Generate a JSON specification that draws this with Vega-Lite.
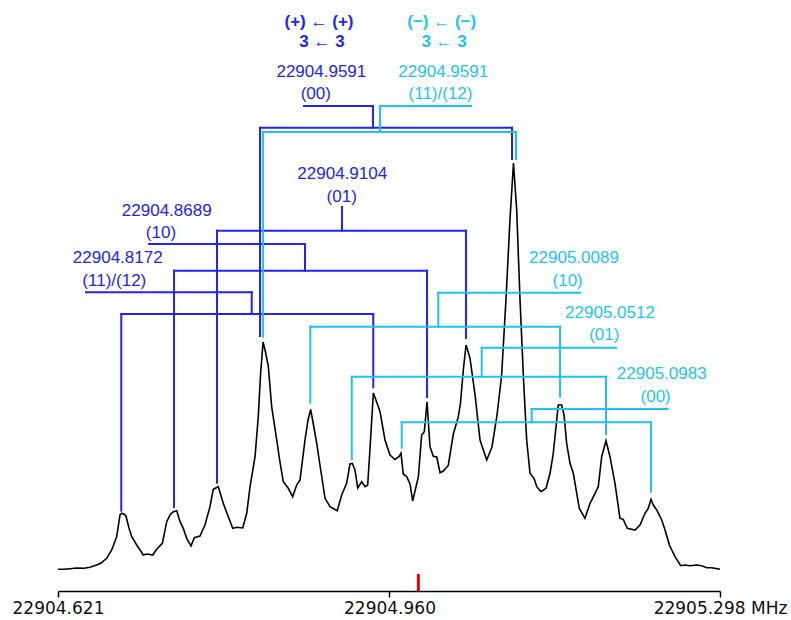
{
  "$schema": "https://vega.github.io/schema/vega-lite/v6.json",
  "width": 662,
  "height": 591,
  "autosize": "none",
  "padding": {"left": 58, "top": 0, "right": 71, "bottom": 29},
  "background": "white",
  "config": {
    "view": {"stroke": null}
  },
  "datasets": {
    "spectrum": [
      {"f": 22904.6210, "v": 21.7}, {"f": 22904.6264, "v": 21.7}, {"f": 22904.6333, "v": 22.3}, {"f": 22904.6401, "v": 23},
      {"f": 22904.6476, "v": 22.7}, {"f": 22904.6537, "v": 23.7}, {"f": 22904.6606, "v": 26}, {"f": 22904.6650, "v": 28},
      {"f": 22904.6708, "v": 32.7}, {"f": 22904.6759, "v": 41}, {"f": 22904.6810, "v": 54.3}, {"f": 22904.6844, "v": 76},
      {"f": 22904.6861, "v": 77.7}, {"f": 22904.6890, "v": 76.5}, {"f": 22904.6905, "v": 75}, {"f": 22904.6936, "v": 63},
      {"f": 22904.6964, "v": 54.3}, {"f": 22904.7015, "v": 46}, {"f": 22904.7049, "v": 41}, {"f": 22904.7082, "v": 36},
      {"f": 22904.7117, "v": 37}, {"f": 22904.7151, "v": 36.5}, {"f": 22904.7179, "v": 36}, {"f": 22904.7219, "v": 41.7},
      {"f": 22904.7277, "v": 47.7}, {"f": 22904.7322, "v": 69.3}, {"f": 22904.7355, "v": 76}, {"f": 22904.7386, "v": 79},
      {"f": 22904.7424, "v": 80.3}, {"f": 22904.7458, "v": 69.3}, {"f": 22904.7491, "v": 62.7}, {"f": 22904.7526, "v": 52.7},
      {"f": 22904.7570, "v": 45}, {"f": 22904.7604, "v": 53.3}, {"f": 22904.7662, "v": 55}, {"f": 22904.7713, "v": 66},
      {"f": 22904.7764, "v": 84.3}, {"f": 22904.7798, "v": 101.7}, {"f": 22904.7849, "v": 104.3}, {"f": 22904.7900, "v": 87.7},
      {"f": 22904.7949, "v": 75}, {"f": 22904.7997, "v": 62.7}, {"f": 22904.8038, "v": 63.7}, {"f": 22904.8099, "v": 63},
      {"f": 22904.8140, "v": 77.7}, {"f": 22904.8174, "v": 104.3}, {"f": 22904.8225, "v": 134.3}, {"f": 22904.8258, "v": 174.3},
      {"f": 22904.8281, "v": 216}, {"f": 22904.8307, "v": 249}, {"f": 22904.8332, "v": 239}, {"f": 22904.8361, "v": 224.3},
      {"f": 22904.8395, "v": 184.3}, {"f": 22904.8447, "v": 151}, {"f": 22904.8480, "v": 129}, {"f": 22904.8514, "v": 109.3},
      {"f": 22904.8565, "v": 102.7}, {"f": 22904.8610, "v": 94.3}, {"f": 22904.8651, "v": 106}, {"f": 22904.8685, "v": 111},
      {"f": 22904.8736, "v": 151}, {"f": 22904.8767, "v": 171}, {"f": 22904.8794, "v": 181.5}, {"f": 22904.8823, "v": 166},
      {"f": 22904.8856, "v": 147.7}, {"f": 22904.8889, "v": 126}, {"f": 22904.8941, "v": 92.7}, {"f": 22904.8992, "v": 84.3},
      {"f": 22904.9066, "v": 80.3}, {"f": 22904.9111, "v": 96}, {"f": 22904.9162, "v": 107.7}, {"f": 22904.9196, "v": 127},
      {"f": 22904.9220, "v": 127.5}, {"f": 22904.9247, "v": 121}, {"f": 22904.9275, "v": 103}, {"f": 22904.9316, "v": 109.3},
      {"f": 22904.9350, "v": 104.3}, {"f": 22904.9377, "v": 106}, {"f": 22904.9401, "v": 143}, {"f": 22904.9435, "v": 198},
      {"f": 22904.9486, "v": 184.3}, {"f": 22904.9503, "v": 179.3}, {"f": 22904.9554, "v": 151}, {"f": 22904.9605, "v": 136},
      {"f": 22904.9656, "v": 131.5}, {"f": 22904.9697, "v": 134.3}, {"f": 22904.9718, "v": 137.7}, {"f": 22904.9741, "v": 117},
      {"f": 22904.9776, "v": 114.3}, {"f": 22904.9810, "v": 107}, {"f": 22904.9837, "v": 90}, {"f": 22904.9895, "v": 114},
      {"f": 22904.9929, "v": 156}, {"f": 22904.9956, "v": 159.3}, {"f": 22904.9984, "v": 189.3}, {"f": 22905.0014, "v": 144.3},
      {"f": 22905.0048, "v": 134.7}, {"f": 22905.0083, "v": 134}, {"f": 22905.0117, "v": 118.3}, {"f": 22905.0150, "v": 120},
      {"f": 22905.0201, "v": 125.5}, {"f": 22905.0253, "v": 157}, {"f": 22905.0304, "v": 174.3}, {"f": 22905.0326, "v": 188},
      {"f": 22905.0355, "v": 221}, {"f": 22905.0383, "v": 246}, {"f": 22905.0423, "v": 233}, {"f": 22905.0475, "v": 196},
      {"f": 22905.0526, "v": 151}, {"f": 22905.0594, "v": 131}, {"f": 22905.0648, "v": 144}, {"f": 22905.0700, "v": 176},
      {"f": 22905.0747, "v": 216}, {"f": 22905.0791, "v": 291}, {"f": 22905.0832, "v": 371}, {"f": 22905.0868, "v": 428},
      {"f": 22905.0901, "v": 381}, {"f": 22905.0935, "v": 291}, {"f": 22905.0971, "v": 211}, {"f": 22905.1003, "v": 151},
      {"f": 22905.1037, "v": 117.7}, {"f": 22905.1078, "v": 112.7}, {"f": 22905.1106, "v": 104.3}, {"f": 22905.1150, "v": 99.3},
      {"f": 22905.1201, "v": 102.7}, {"f": 22905.1242, "v": 117.7}, {"f": 22905.1275, "v": 137.7}, {"f": 22905.1303, "v": 164.3},
      {"f": 22905.1326, "v": 186}, {"f": 22905.1361, "v": 186}, {"f": 22905.1385, "v": 176}, {"f": 22905.1412, "v": 147.7},
      {"f": 22905.1446, "v": 127.7}, {"f": 22905.1480, "v": 117.7}, {"f": 22905.1541, "v": 82.7}, {"f": 22905.1599, "v": 72.7},
      {"f": 22905.1651, "v": 87.7}, {"f": 22905.1702, "v": 97.7}, {"f": 22905.1735, "v": 104.3}, {"f": 22905.1770, "v": 134.3},
      {"f": 22905.1814, "v": 150.3}, {"f": 22905.1855, "v": 134.3}, {"f": 22905.1906, "v": 107.7}, {"f": 22905.1957, "v": 72.7},
      {"f": 22905.1991, "v": 71.7}, {"f": 22905.2032, "v": 62.7}, {"f": 22905.2111, "v": 61}, {"f": 22905.2162, "v": 66},
      {"f": 22905.2213, "v": 77.7}, {"f": 22905.2247, "v": 82.7}, {"f": 22905.2274, "v": 91.7}, {"f": 22905.2298, "v": 86},
      {"f": 22905.2333, "v": 81}, {"f": 22905.2384, "v": 71}, {"f": 22905.2418, "v": 61}, {"f": 22905.2462, "v": 46},
      {"f": 22905.2520, "v": 34.3}, {"f": 22905.2578, "v": 25.3}, {"f": 22905.2622, "v": 26}, {"f": 22905.2673, "v": 25.3},
      {"f": 22905.2742, "v": 26}, {"f": 22905.2793, "v": 25.3}, {"f": 22905.2844, "v": 23.3}, {"f": 22905.2895, "v": 23.3},
      {"f": 22905.2980, "v": 21.7}
    ],
    "tree": [
      {"tree": "plus", "f": 22904.8726, "f2": 22904.9431, "v": 485, "v2": 485},
      {"tree": "plus", "f": 22904.9431, "f2": 22904.9431, "v": 485, "v2": 463.3},
      {"tree": "plus", "f": 22904.8276, "f2": 22905.0853, "v": 463.3, "v2": 463.3},
      {"tree": "plus", "f": 22904.8276, "f2": 22904.8276, "v": 463.3, "v2": 255},
      {"tree": "plus", "f": 22905.0853, "f2": 22905.0853, "v": 463.3, "v2": 432},
      {"tree": "plus", "f": 22904.9114, "f2": 22904.9114, "v": 384, "v2": 360.3},
      {"tree": "plus", "f": 22904.7836, "f2": 22905.0382, "v": 360.3, "v2": 360.3},
      {"tree": "plus", "f": 22904.7836, "f2": 22904.7836, "v": 360.3, "v2": 108.3},
      {"tree": "plus", "f": 22905.0382, "f2": 22905.0382, "v": 360.3, "v2": 253},
      {"tree": "plus", "f": 22904.7141, "f2": 22904.8736, "v": 347, "v2": 347},
      {"tree": "plus", "f": 22904.8736, "f2": 22904.8736, "v": 347, "v2": 320.3},
      {"tree": "plus", "f": 22904.7396, "f2": 22904.9984, "v": 320.3, "v2": 320.3},
      {"tree": "plus", "f": 22904.7396, "f2": 22904.7396, "v": 320.3, "v2": 84},
      {"tree": "plus", "f": 22904.9984, "f2": 22904.9984, "v": 320.3, "v2": 194},
      {"tree": "plus", "f": 22904.6496, "f2": 22904.8191, "v": 298.7, "v2": 298.7},
      {"tree": "plus", "f": 22904.8191, "f2": 22904.8191, "v": 298.7, "v2": 277},
      {"tree": "plus", "f": 22904.6857, "f2": 22904.9434, "v": 277, "v2": 277},
      {"tree": "plus", "f": 22904.6857, "f2": 22904.6857, "v": 277, "v2": 80.3},
      {"tree": "plus", "f": 22904.9434, "f2": 22904.9434, "v": 277, "v2": 203.7},
      {"tree": "minus", "f": 22904.9503, "f2": 22905.0434, "v": 485, "v2": 485},
      {"tree": "minus", "f": 22904.9503, "f2": 22904.9503, "v": 485, "v2": 459},
      {"tree": "minus", "f": 22904.8306, "f2": 22905.0894, "v": 459, "v2": 459},
      {"tree": "minus", "f": 22904.8306, "f2": 22904.8306, "v": 459, "v2": 254.3},
      {"tree": "minus", "f": 22905.0894, "f2": 22905.0894, "v": 459, "v2": 432},
      {"tree": "minus", "f": 22905.0099, "f2": 22905.1548, "v": 298.3, "v2": 298.3},
      {"tree": "minus", "f": 22905.0099, "f2": 22905.0099, "v": 298.3, "v2": 264.3},
      {"tree": "minus", "f": 22904.8790, "f2": 22905.1344, "v": 264.3, "v2": 264.3},
      {"tree": "minus", "f": 22904.8790, "f2": 22904.8790, "v": 264.3, "v2": 188.3},
      {"tree": "minus", "f": 22905.1344, "f2": 22905.1344, "v": 264.3, "v2": 194.3},
      {"tree": "minus", "f": 22905.0543, "f2": 22905.1916, "v": 243.3, "v2": 243.3},
      {"tree": "minus", "f": 22905.0543, "f2": 22905.0543, "v": 243.3, "v2": 214.3},
      {"tree": "minus", "f": 22904.9214, "f2": 22905.1814, "v": 214.3, "v2": 214.3},
      {"tree": "minus", "f": 22904.9214, "f2": 22904.9214, "v": 214.3, "v2": 131.7},
      {"tree": "minus", "f": 22905.1814, "f2": 22905.1814, "v": 214.3, "v2": 156.7},
      {"tree": "minus", "f": 22905.1054, "f2": 22905.2445, "v": 182, "v2": 182},
      {"tree": "minus", "f": 22905.1054, "f2": 22905.1054, "v": 182, "v2": 168.7},
      {"tree": "minus", "f": 22904.9725, "f2": 22905.2274, "v": 168.7, "v2": 168.7},
      {"tree": "minus", "f": 22904.9725, "f2": 22904.9725, "v": 168.7, "v2": 143.3},
      {"tree": "minus", "f": 22905.2274, "f2": 22905.2274, "v": 168.7, "v2": 99.3}
    ],
    "headers": [
      {"tree": "plus", "f": 22904.8879, "v": 569.3, "text": "(+) ← (+)"},
      {"tree": "plus", "f": 22904.8910, "v": 548.7, "text": "3 ← 3"},
      {"tree": "minus", "f": 22905.0134, "v": 569.3, "text": "(−) ← (−)"},
      {"tree": "minus", "f": 22905.0158, "v": 548.7, "text": "3 ← 3"}
    ],
    "labels": [
      {"tree": "plus", "f": 22904.8903, "v": 519.3, "text": "22904.9591"},
      {"tree": "plus", "f": 22904.8846, "v": 497, "text": "(00)"},
      {"tree": "minus", "f": 22905.0150, "v": 519.3, "text": "22904.9591"},
      {"tree": "minus", "f": 22905.0122, "v": 497, "text": "(11)/(12)"},
      {"tree": "plus", "f": 22904.9117, "v": 417, "text": "22904.9104"},
      {"tree": "plus", "f": 22904.9111, "v": 394.3, "text": "(01)"},
      {"tree": "plus", "f": 22904.7322, "v": 380.3, "text": "22904.8689"},
      {"tree": "plus", "f": 22904.7263, "v": 357.7, "text": "(10)"},
      {"tree": "plus", "f": 22904.6821, "v": 332.7, "text": "22904.8172"},
      {"tree": "plus", "f": 22904.6786, "v": 310, "text": "(11)/(12)"},
      {"tree": "minus", "f": 22905.1487, "v": 332.7, "text": "22905.0089"},
      {"tree": "minus", "f": 22905.1422, "v": 310, "text": "(10)"},
      {"tree": "minus", "f": 22905.1855, "v": 278.3, "text": "22905.0512"},
      {"tree": "minus", "f": 22905.1797, "v": 256, "text": "(01)"},
      {"tree": "minus", "f": 22905.2384, "v": 216.7, "text": "22905.0983"},
      {"tree": "minus", "f": 22905.2322, "v": 194.3, "text": "(00)"}
    ],
    "marker": [
      {"f": 22904.9895, "v": 0, "v2": 17}
    ]
  },
  "layer": [
    {
      "data": {"name": "spectrum"},
      "mark": {"type": "line", "color": "#000000", "strokeWidth": 1.6, "interpolate": "linear"},
      "encoding": {
        "x": {
          "field": "f",
          "type": "quantitative",
          "scale": {"domain": [22904.621, 22905.298], "nice": false, "zero": false},
          "axis": {
            "title": null,
            "grid": false,
            "values": [22904.621, 22904.96, 22905.298],
            "labelExpr": "datum.value > 22905.2 ? format(datum.value, '.3f') + ' MHz' : format(datum.value, '.3f')",
            "labelFont": "DejaVu Sans",
            "labelFontSize": 17,
            "labelColor": "#111111",
            "domainColor": "#000000",
            "domainWidth": 1.5,
            "tickColor": "#000000",
            "tickWidth": 1.5,
            "tickSize": 6,
            "labelPadding": 3,
            "labelOverlap": false,
            "labelFlush": false,
            "labelBound": false
          }
        },
        "y": {"field": "v", "type": "quantitative", "scale": {"domain": [0, 591], "nice": false, "zero": true}, "axis": null}
      }
    },
    {
      "data": {"name": "tree"},
      "mark": {"type": "rule", "strokeWidth": 2, "strokeCap": "square"},
      "encoding": {
        "x": {"field": "f", "type": "quantitative"},
        "x2": {"field": "f2"},
        "y": {"field": "v", "type": "quantitative"},
        "y2": {"field": "v2"},
        "color": {"field": "tree", "type": "nominal", "scale": {"domain": ["plus", "minus"], "range": ["#2323f5", "#1fc3f3"]}, "legend": null}
      }
    },
    {
      "data": {"name": "headers"},
      "mark": {"type": "text", "font": "Liberation Sans", "fontSize": 17, "fontWeight": "bold", "align": "center", "baseline": "middle"},
      "encoding": {
        "x": {"field": "f", "type": "quantitative"},
        "y": {"field": "v", "type": "quantitative"},
        "text": {"field": "text"},
        "color": {"field": "tree", "type": "nominal", "legend": null}
      }
    },
    {
      "data": {"name": "labels"},
      "mark": {"type": "text", "font": "Liberation Sans", "fontSize": 17, "align": "center", "baseline": "middle"},
      "encoding": {
        "x": {"field": "f", "type": "quantitative"},
        "y": {"field": "v", "type": "quantitative"},
        "text": {"field": "text"},
        "color": {"field": "tree", "type": "nominal", "legend": null}
      }
    },
    {
      "data": {"name": "marker"},
      "mark": {"type": "rule", "color": "#ee0000", "strokeWidth": 3},
      "encoding": {
        "x": {"field": "f", "type": "quantitative"},
        "y": {"field": "v", "type": "quantitative"},
        "y2": {"field": "v2"}
      }
    }
  ]
}
